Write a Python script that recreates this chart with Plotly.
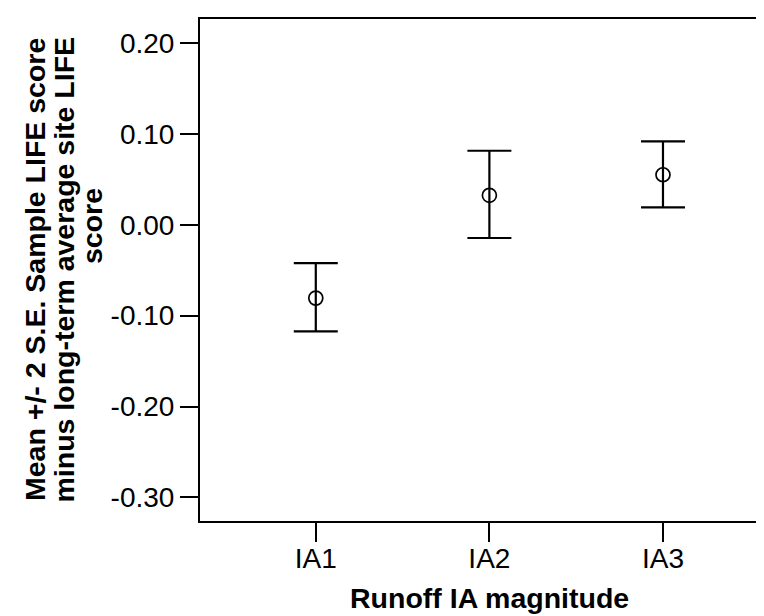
import plotly.graph_objects as go

categories = ["IA1", "IA2", "IA3"]
means = [-0.0807, 0.0324, 0.0550]
upper = [-0.0422, 0.0814, 0.0918]
lower = [-0.1173, -0.0146, 0.0191]
y_tick_vals = [0.20, 0.10, 0.00, -0.10, -0.20, -0.30]
y_tick_text = ["0.20", "0.10", "0.00", "-0.10", "-0.20", "-0.30"]

xpos = list(range(len(categories)))
err_plus = [u - m for u, m in zip(upper, means)]
err_minus = [m - l for m, l in zip(means, lower)]

FONT = "Liberation Sans, Arial, sans-serif"

fig = go.Figure()
fig.add_trace(go.Scatter(
    x=xpos, y=means, mode="markers",
    marker=dict(symbol="circle-open", size=14, color="black", line=dict(width=1.7, color="black")),
    error_y=dict(type="data", symmetric=False, array=err_plus, arrayminus=err_minus,
                 color="black", thickness=2.2, width=22),
    showlegend=False, hoverinfo="skip",
))

fig.update_layout(
    width=764, height=616,
    margin=dict(l=192, r=0, t=11, b=103),
    paper_bgcolor="white", plot_bgcolor="white",
    font=dict(family=FONT, color="black"),
    xaxis=dict(
        range=[-0.667, 2.628], tickvals=xpos, ticktext=categories,
        showline=True, linewidth=2, linecolor="black", mirror=True,
        ticks="outside", ticklen=19, tickwidth=2, tickcolor="black",
        ticklabelstandoff=-8,
        showgrid=False, zeroline=False,
        tickfont=dict(size=28, family=FONT),
    ),
    yaxis=dict(
        range=[-0.326, 0.2264], tickvals=y_tick_vals, ticktext=y_tick_text,
        showline=True, linewidth=2, linecolor="black", mirror=False,
        ticks="outside", ticklen=18, tickwidth=2, tickcolor="black",
        showgrid=False, zeroline=False,
        tickfont=dict(size=28, family=FONT),
    ),
)

plot_w = 764 - 192
plot_h = 513 - 11

# x-axis title
fig.add_annotation(
    text="<b>Runoff IA magnitude</b>", xref="paper", yref="paper",
    x=(481 - 192) / plot_w, y=(513 - 590) / plot_h,
    xanchor="center", yanchor="middle", showarrow=False,
    font=dict(size=28.5, family=FONT, color="black"),
)

# y-axis title, three rotated lines
title_lines = [
    ("<b>Mean +/- 2 S.E. Sample LIFE score</b>", 27, 262),
    ("<b>minus long-term average site LIFE</b>", 55.5, 262),
    ("<b>score</b>", 84, 218),
]
for text, px, py in title_lines:
    fig.add_annotation(
        text=text, xref="paper", yref="paper",
        x=(px - 192) / plot_w, y=(513 - py) / plot_h,
        xanchor="center", yanchor="middle", textangle=-90, showarrow=False,
        font=dict(size=28.5, family=FONT, color="black"),
    )

fig.write_html("out.html")
